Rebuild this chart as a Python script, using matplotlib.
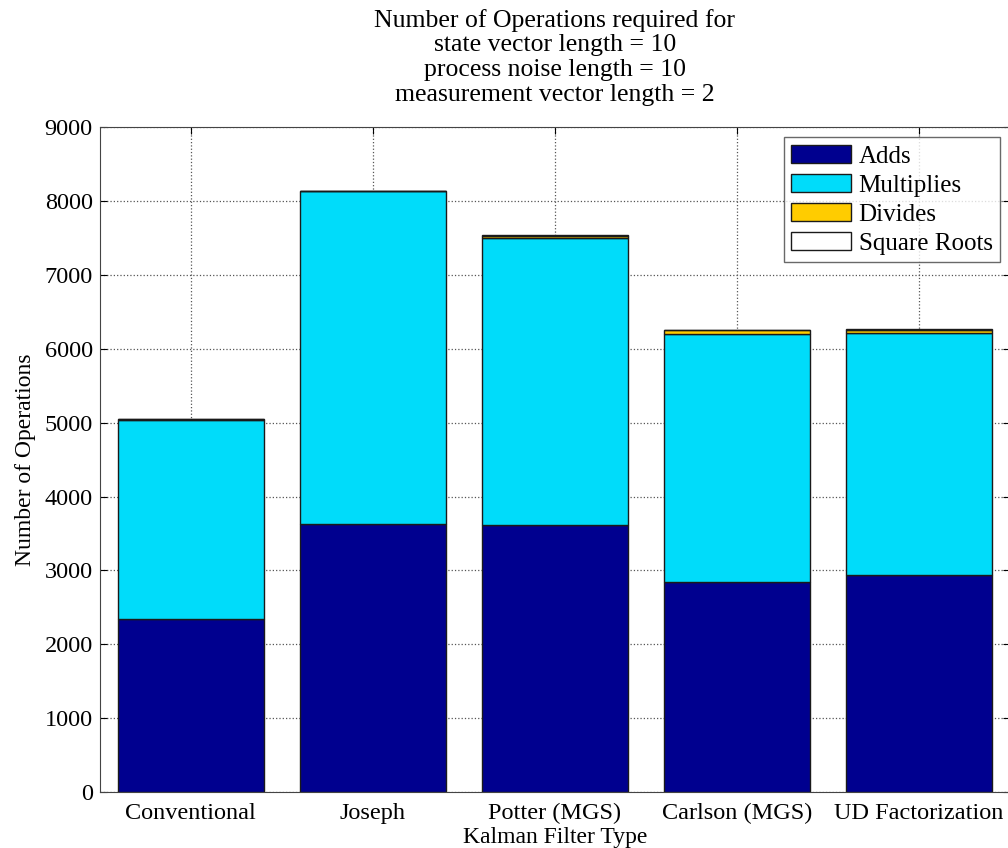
import matplotlib
matplotlib.use('Agg')
import matplotlib.pyplot as plt
import numpy as np

filters = ['Conventional', 'Joseph', 'Potter (MGS)', 'Carlson (MGS)', 'UD Factorization']
adds = [2340, 3630, 3620, 2840, 2940]
multiplies = [2690, 4500, 3880, 3360, 3280]
divides = [20, 10, 30, 50, 40]
square_roots = [0, 0, 10, 10, 10]

series = [('Adds', adds, '#00008f'),
          ('Multiplies', multiplies, '#00dcfa'),
          ('Divides', divides, '#ffcc00'),
          ('Square Roots', square_roots, '#ffffff')]

plt.rcParams['font.family'] = ['Liberation Serif', 'DejaVu Serif']
plt.rcParams['font.size'] = 18

fig = plt.figure(figsize=(10.08, 8.48), dpi=100)
ax = fig.add_axes([0.099, 0.066, 0.903, 0.784])

x = np.arange(1, len(filters) + 1)
bottom = np.zeros(len(filters))
for name, vals, col in series:
    ax.bar(x, vals, width=0.8, bottom=bottom, color=col, edgecolor='#1a1a1a',
           linewidth=1.0, label=name)
    bottom += np.array(vals)

ax.set_xlim(0.5, 5.5)
ax.set_ylim(0, 9000)
ax.set_yticks(range(0, 9001, 1000))
ax.set_xticks(x)
ax.set_xticklabels(filters)
ax.set_axisbelow(True)
ax.grid(True, linestyle=':', color='#555555', linewidth=0.9)
ax.tick_params(axis='both', direction='in', top=True, right=True, length=5, labelsize=17.5)
ax.tick_params(axis='x', pad=8)
ax.tick_params(axis='y', pad=5)
for s in ax.spines.values():
    s.set_color('#444444')

ax.set_xlabel('Kalman Filter Type', fontsize=17, labelpad=2)
ax.set_ylabel('Number of Operations', fontsize=17, labelpad=6)
ax.set_title('Number of Operations required for\nstate vector length = 10\n'
             'process noise length = 10\nmeasurement vector length = 2',
             fontsize=18.5, linespacing=1.16, pad=19)

leg = ax.legend(loc='upper right', fontsize=18, fancybox=False, edgecolor='#444444',
                handlelength=2.4, handleheight=0.75, labelspacing=0.25,
                borderaxespad=0.4, handletextpad=0.3, borderpad=0.3)
leg.get_frame().set_linewidth(1.0)

fig.savefig('out.png', dpi=100)
